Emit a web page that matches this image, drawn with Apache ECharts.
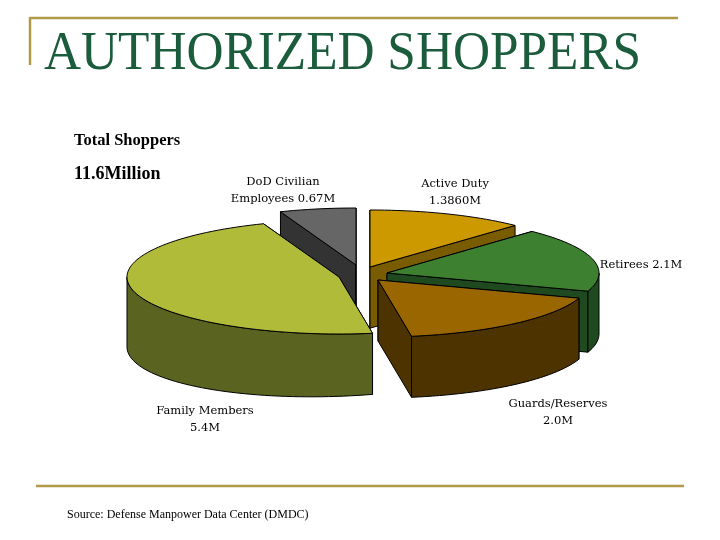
<!DOCTYPE html>
<html><head><meta charset="utf-8">
<style>html,body{margin:0;padding:0;background:#fff}#c{width:720px;height:540px}</style>
<script src="https://cdn.jsdelivr.net/npm/echarts@6/dist/echarts.min.js"></script>
</head><body><div id="c"></div>
<script>
// Data, clockwise from 12 o'clock
var categories = ['Active Duty','Retirees','Guards/Reserves','Family Members','DoD Civilian Employees'];
var values = [1.386, 2.1, 2.0, 5.4, 0.67];
var sliceLabels = ['Active Duty\n1.3860M','Retirees 2.1M','Guards/Reserves\n2.0M','Family Members\n5.4M','DoD Civilian\nEmployees 0.67M'];

// Styling and layout
var topColors  = ['#cc9900','#3d8030','#996600','#b1bb3a','#666666'];
var wallColors = ['#7a5c00','#1f4a1f','#4d3300','#5a6420','#333333'];
var sliceCentres = [[370,267],[387,273],[378,280],[339,277],[356,265]];
var labelAnchors = [[455,193],[641,265],[558,413],[205,420],[283,191]];
var drawOrder = [4,0,1,3,2];
var RX = 212, RY = 57, DEPTH = 61;

var total = values.reduce(function(a,b){return a+b;},0);
var starts = [], acc = 0;
values.forEach(function(v){ starts.push(acc/total*360); acc += v; });

function pt(c, deg, drop){
  var a = deg*Math.PI/180;
  return [c[0]+RX*Math.sin(a), c[1]-RY*Math.cos(a)+(drop||0)];
}
function depthAt(x){ return DEPTH + Math.max(0,375-x)*0.036; }
function arc(c, a0, a1, dropped){
  var pts = [], n = Math.max(2, Math.ceil((a1-a0)/2));
  for (var i=0;i<=n;i++){
    var p = pt(c, a0+(a1-a0)*i/n);
    if (dropped) p[1] += depthAt(p[0]);
    pts.push(p);
  }
  return pts;
}
function poly(points, fill){
  return {type:'polygon', shape:{points:points},
    style:{fill:fill, stroke:'#000', lineWidth:1, lineJoin:'round'}};
}
function radial(c, deg, fill){
  var e = pt(c,deg);
  return poly([c,e,[e[0],e[1]+depthAt(e[0])],[c[0],c[1]+depthAt(c[0])]], fill);
}
function renderSlice(params, api){
  var i = api.value(1), sweep = api.value(0)/total*360;
  var a0 = starts[i], a1 = a0+sweep, c = sliceCentres[i], kids = [];
  kids.push(radial(c,a0,wallColors[i]));
  kids.push(radial(c,a1,wallColors[i]));
  var f0 = Math.max(a0,90), f1 = Math.min(a1,270);
  if (f1 > f0){
    kids.push(poly(arc(c,f0,f1,false).concat(arc(c,f0,f1,true).reverse()), wallColors[i]));
  }
  kids.push(poly([c].concat(arc(c,a0,a1,false)), topColors[i]));
  return {type:'group', children:kids};
}
function text(x,y,t,font){
  return {type:'text',x:x,y:y,silent:true,
    style:{text:t,font:font,fill:'#000',align:'left',verticalAlign:'middle'}};
}
var labelFont = '11.5px "DejaVu Serif"';
var graphics = [
  {type:'line',shape:{x1:30,y1:18,x2:678,y2:18},style:{stroke:'#b09a4a',lineWidth:2.5}},
  {type:'line',shape:{x1:30,y1:17,x2:30,y2:65},style:{stroke:'#b09a4a',lineWidth:2.5}},
  {type:'line',shape:{x1:36,y1:486,x2:684,y2:486},style:{stroke:'#b09a4a',lineWidth:2.5}},
  {type:'text',x:44,y:55,scaleX:0.95,style:{text:'AUTHORIZED SHOPPERS',font:'54px "Liberation Serif"',fill:'#1a5c3c',verticalAlign:'middle'}},
  text(74,141,'Total Shoppers','bold 16.5px "Liberation Serif"'),
  text(74,174,'11.6Million','bold 18px "Liberation Serif"'),
  text(67,515,'Source: Defense Manpower Data Center (DMDC)','12px "Liberation Serif"')
];
sliceLabels.forEach(function(t,i){
  graphics.push({type:'text',x:labelAnchors[i][0],y:labelAnchors[i][1],silent:true,
    style:{text:t,font:labelFont,fill:'#000',align:'center',verticalAlign:'middle',lineHeight:17}});
});
var chart = echarts.init(document.getElementById('c'),null,{renderer:'canvas'});
chart.setOption({
  animation:false,
  graphic:graphics,
  series:[{
    type:'custom',
    coordinateSystem:'none',
    renderItem:renderSlice,
    silent:true,
    data:drawOrder.map(function(i){ return {name:categories[i], value:[values[i], i]}; })
  }]
});
</script></body></html>
